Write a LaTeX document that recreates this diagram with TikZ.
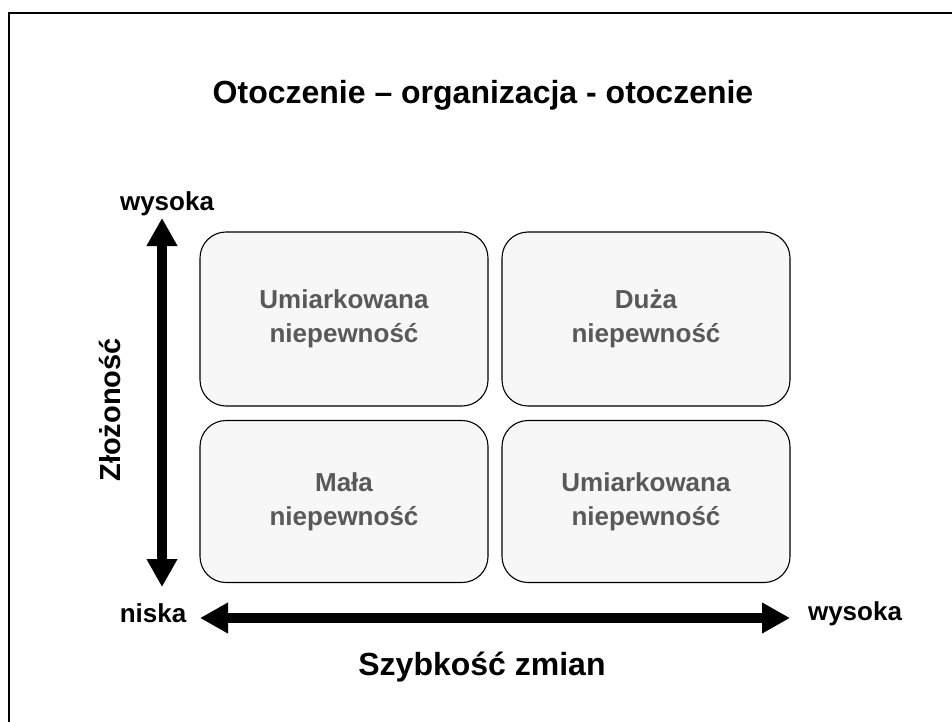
\documentclass[tikz,border=0pt]{standalone}
\usepackage{fontspec}
\setmainfont{Liberation Sans}
\usetikzlibrary{arrows.meta}
\definecolor{cellfill}{HTML}{F7F7F7}
\definecolor{celltext}{HTML}{595959}
\tikzset{
  cell/.style={draw=black, line width=1.1pt, fill=cellfill, rounded corners=26pt,
    minimum width=288pt, inner sep=0pt, align=center, text=celltext,
    font=\fontsize{26}{34}\selectfont\bfseries},
  axislabel/.style={font=\fontsize{26}{31}\selectfont\bfseries, inner sep=0pt},
  axisarrow/.style={line width=10pt, {Triangle[length=28pt,width=29pt]}-{Triangle[length=28pt,width=29pt]}}
}
\begin{document}
\begin{tikzpicture}[x=1pt,y=-1pt]
  \useasboundingbox (0,0) rectangle (952,722);
  \clip (0,0) rectangle (952,722);
  % frame
  \draw[line width=2pt] (9,13) rectangle (990,760);
  % title
  \node[font=\fontsize{32}{38}\selectfont\bfseries, inner sep=0pt] (title) at (483,95)
    {Otoczenie – organizacja - otoczenie};
  % four cells
  \node[cell, minimum height=174pt] (tl) at (344,319) {Umiarkowana\\niepewność};
  \node[cell, minimum height=174pt] (tr) at (646,319) {Duża\\niepewność};
  \node[cell, minimum height=162pt] (bl) at (344,501.5) {Mała\\niepewność};
  \node[cell, minimum height=162pt] (br) at (646,501.5) {Umiarkowana\\niepewność};
  % axes
  \coordinate (vtop) at (162,218);
  \coordinate (vbot) at (162,587);
  \coordinate (hleft) at (200,618);
  \coordinate (hright) at (790,618);
  \draw[axisarrow] (vbot) -- (vtop);
  \draw[axisarrow] (hleft) -- (hright);
  % axis labels
  \node[axislabel] (ytop) at (167,204) {wysoka};
  \node[axislabel] (origin) at (153,613) {niska};
  \node[axislabel] (xright) at (855,614) {wysoka};
  \node[font=\fontsize{32}{38}\selectfont\bfseries, inner sep=0pt] (xname) at (482,667) {Szybkość zmian};
  \node[font=\fontsize{29}{34}\selectfont\bfseries, inner sep=0pt, rotate=90] (yname) at (110,410) {Złożoność};
\end{tikzpicture}
\end{document}
